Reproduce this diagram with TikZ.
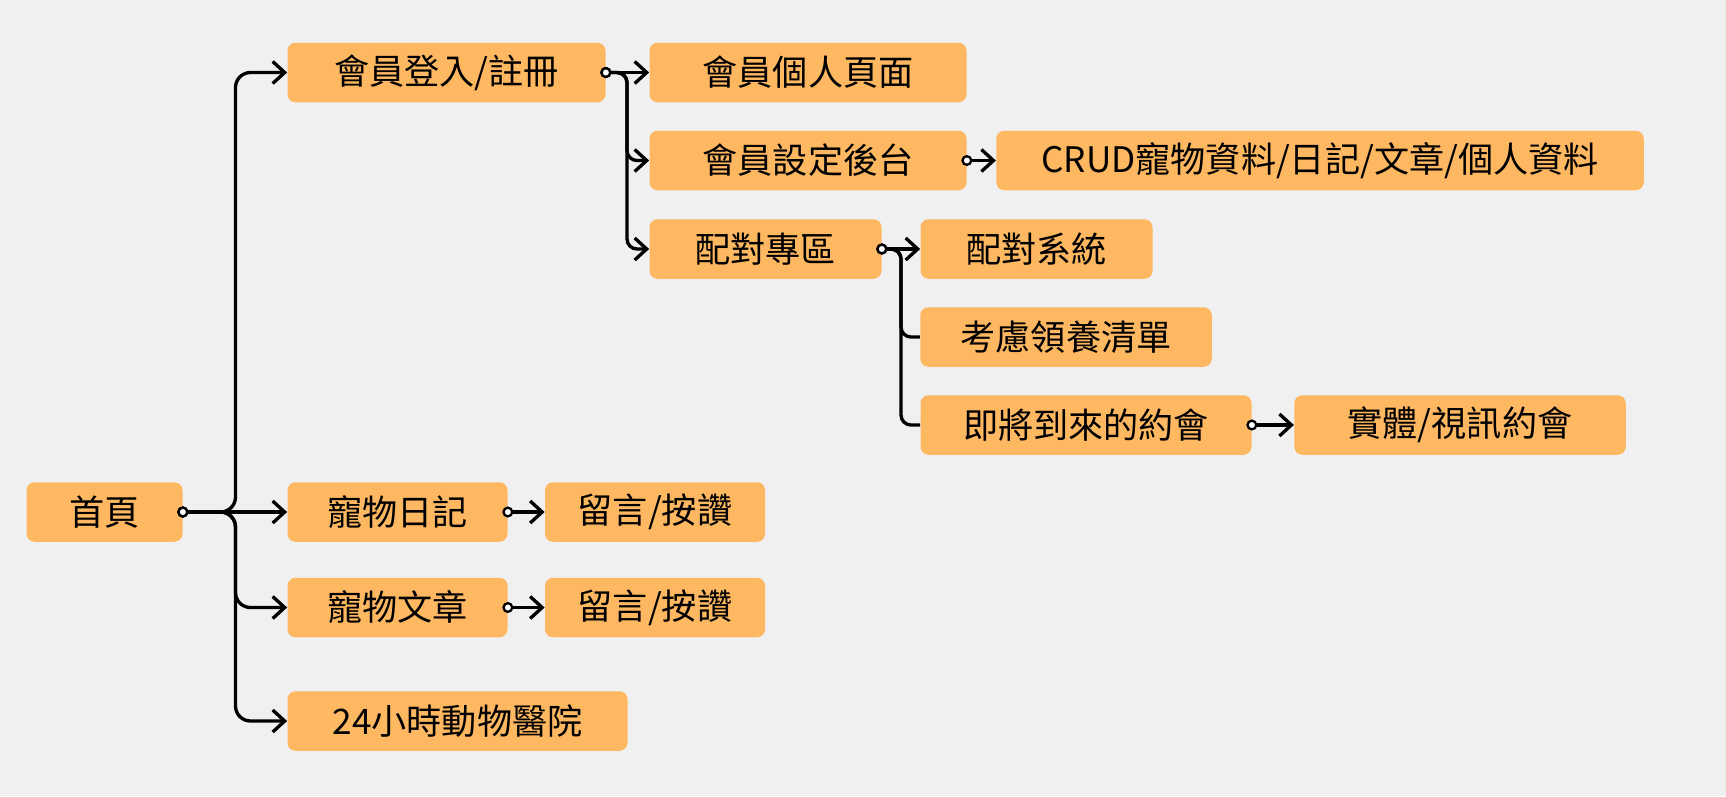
\documentclass[tikz,border=0pt]{standalone}
\usepackage{fontspec}
\usetikzlibrary{arrows.meta}
\newfontfamily\cjk{Noto Sans CJK TC}
\definecolor{boxfill}{HTML}{FFB862}
\definecolor{bgfill}{HTML}{F0F0F0}

\begin{document}
\begin{tikzpicture}[>={Straight Barb[length=0.24cm,width=0.44cm]},
  box/.style={fill=boxfill,rounded corners=0.16cm,minimum height=1.19cm,inner sep=2pt,font=\cjk\fontsize{20}{24}\selectfont},
  lnk/.style={line width=1.9pt,rounded corners=0.3cm,shorten <=-0.11cm},
  tip/.style={lnk,{Circle[open,fill=white,length=0.22cm,line width=1.3pt]}->},
  stub/.style={lnk,{Circle[open,fill=white,length=0.22cm,line width=1.3pt]}-}]
  \fill[bgfill] (0,0) rectangle (34.52,-15.92);
  \node[box,minimum width=3.12cm] (nhome) at (2.09,-10.24) {首頁};
  \node[box,minimum width=6.36cm] (nlogin) at (8.93,-1.45) {會員登入/註冊};
  \node[box,minimum width=6.34cm] (nprofile) at (16.16,-1.45) {會員個人頁面};
  \node[box,minimum width=6.34cm] (nsettings) at (16.16,-3.21) {會員設定後台};
  \node[box,minimum width=12.95cm] (ncrud) at (26.40,-3.21) {CRUD寵物資料/日記/文章/個人資料};
  \node[box,minimum width=4.64cm] (nmatch) at (15.31,-4.98) {配對專區};
  \node[box,minimum width=4.64cm] (nmatchsys) at (20.73,-4.98) {配對系統};
  \node[box,minimum width=5.83cm] (nadopt) at (21.32,-6.74) {考慮領養清單};
  \node[box,minimum width=6.62cm] (ndate) at (21.72,-8.50) {即將到來的約會};
  \node[box,minimum width=6.63cm] (nmeet) at (29.20,-8.50) {實體/視訊約會};
  \node[box,minimum width=4.40cm] (ndiary) at (7.95,-10.24) {寵物日記};
  \node[box,minimum width=4.40cm] (nlike1) at (13.10,-10.24) {留言/按讚};
  \node[box,minimum width=4.40cm] (narticle) at (7.95,-12.15) {寵物文章};
  \node[box,minimum width=4.40cm] (nlike2) at (13.10,-12.15) {留言/按讚};
  \node[box,minimum width=6.80cm] (nvet) at (9.15,-14.42) {24小時動物醫院};
  \coordinate (ftrunk) at (4.71,-10.24);
  \coordinate (flogin) at (12.54,-1.45);
  \coordinate (fmatch) at (18.02,-4.98);
  \draw[tip] (nhome.east) -- (ftrunk) |- (nlogin.west);
  \draw[tip] (nhome.east) -- (ndiary.west);
  \draw[tip] (nhome.east) -- (ftrunk) |- (narticle.west);
  \draw[tip] (nhome.east) -- (ftrunk) |- (nvet.west);
  \draw[tip] (nlogin.east) -- (nprofile.west);
  \draw[tip,rounded corners=0.2cm] (nlogin.east) -- (flogin) |- (nsettings.west);
  \draw[tip,rounded corners=0.2cm] (nlogin.east) -- (flogin) |- (nmatch.west);
  \draw[tip] (nsettings.east) -- (ncrud.west);
  \draw[tip] (nmatch.east) -- (nmatchsys.west);
  \draw[stub,rounded corners=0.2cm] (nmatch.east) -- (fmatch) |- (nadopt.west);
  \draw[stub,rounded corners=0.2cm] (nmatch.east) -- (fmatch) |- (ndate.west);
  \draw[tip] (ndate.east) -- (nmeet.west);
  \draw[tip] (ndiary.east) -- (nlike1.west);
  \draw[tip] (narticle.east) -- (nlike2.west);
\end{tikzpicture}
\end{document}
